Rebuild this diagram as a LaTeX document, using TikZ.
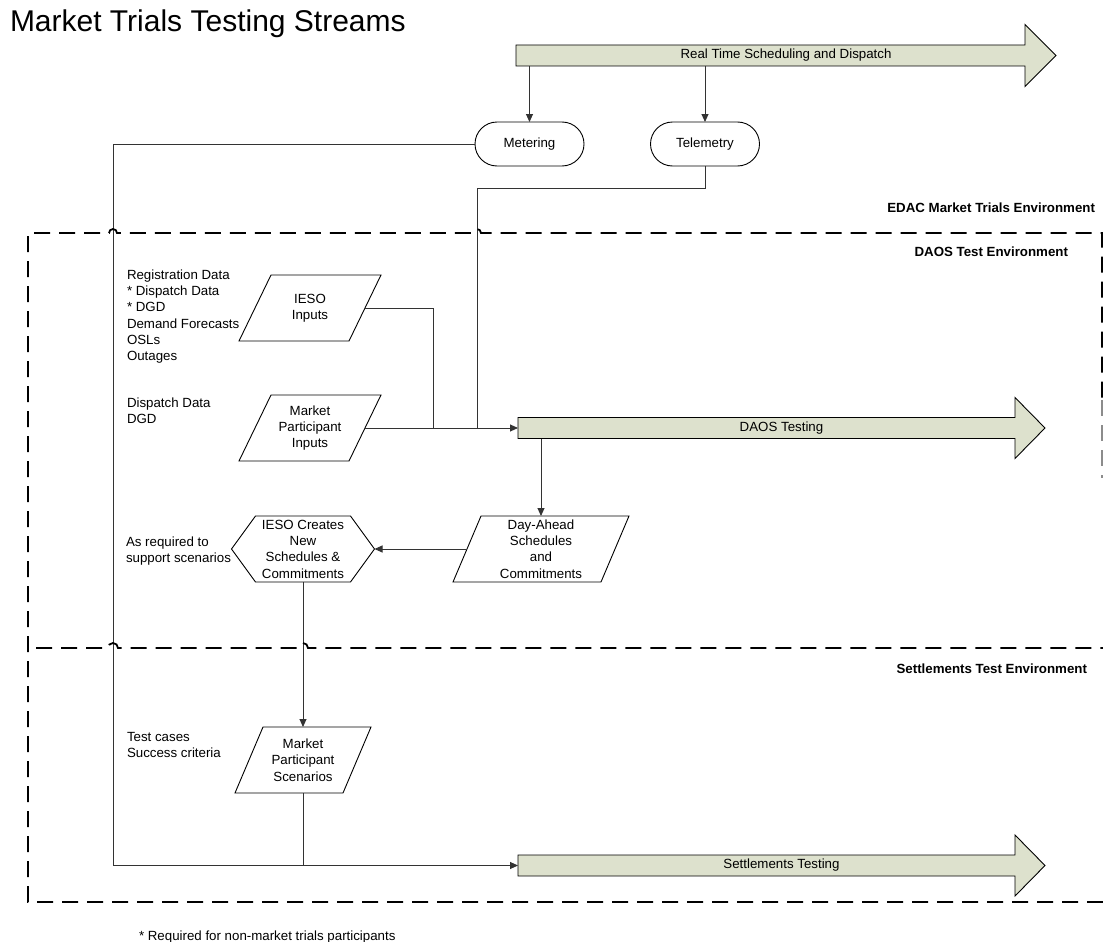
\documentclass[tikz,border=0pt]{standalone}
\usepackage{fontspec}
\setmainfont{Liberation Sans}
\usetikzlibrary{arrows.meta,backgrounds,calc}
\definecolor{arrfill}{RGB}{221,225,205}
\begin{document}
\begin{tikzpicture}[x=1pt,y=-1pt,
  every node/.style={font=\fontsize{13.3}{16.3}\selectfont, inner sep=0pt, outer sep=0pt},
  conn/.style={line width=0.9pt, draw=black!80},
  arrowtip/.style={-{Triangle[length=8pt,width=7pt]}},
  bigarr/.style={fill=arrfill, draw=black, line width=0.9pt},
  envbox/.style={line width=1.8pt, dash pattern=on 16pt off 9pt},
  termbox/.style={draw, line width=0.9pt, rounded corners=22pt, minimum width=109pt, minimum height=44pt},
  bodybox/.style={minimum height=21pt},
  envlabel/.style={font=\fontsize{13.3}{16}\selectfont\bfseries, anchor=east},
  sidelabel/.style={align=left, anchor=north west},
  shapetext/.style={align=center, minimum height=66pt},
  shapeline/.style={draw, line width=0.9pt}
]
\useasboundingbox (0,0) rectangle (1103,942);

% title
\node[anchor=base west, font=\fontsize{30}{32}\selectfont] (title) at (10,32) {Market Trials Testing Streams};

% big arrows (text nodes)
\node[bodybox, minimum width=540pt] (rt) at (786,55.5) {Real Time Scheduling and Dispatch};
\node[bodybox, minimum width=527pt] (daos) at (781.5,428) {DAOS Testing};
\node[bodybox, minimum width=527pt] (settle) at (781.5,865.5) {Settlements Testing};

\begin{pgfonlayer}{background}
\draw[bigarr] (rt.north west) -- ([xshift=-31pt]rt.north east) -- ([xshift=-31pt,yshift=20.5pt]rt.north east)
  -- (rt.east) -- ([xshift=-31pt,yshift=-20.5pt]rt.south east) -- ([xshift=-31pt]rt.south east) -- (rt.south west) -- cycle;
\draw[bigarr] (daos.north west) -- ([xshift=-30pt]daos.north east) -- ([xshift=-30pt,yshift=20pt]daos.north east)
  -- (daos.east) -- ([xshift=-30pt,yshift=-20pt]daos.south east) -- ([xshift=-30pt]daos.south east) -- (daos.south west) -- cycle;
\draw[bigarr] (settle.north west) -- ([xshift=-30pt]settle.north east) -- ([xshift=-30pt,yshift=20pt]settle.north east)
  -- (settle.east) -- ([xshift=-30pt,yshift=-20pt]settle.south east) -- ([xshift=-30pt]settle.south east) -- (settle.south west) -- cycle;
\end{pgfonlayer}

% terminators
\node[termbox] (metering) at (529.5,144) {Metering};
\node[termbox] (telemetry) at (705,144) {Telemetry};

% parallelograms
\node[shapetext, minimum width=110pt] (ieso) at (310,308) {IESO\\Inputs};
\draw[shapeline] ([xshift=16pt]ieso.north west) -- ([xshift=16pt]ieso.north east) -- ([xshift=-16pt]ieso.south east) -- ([xshift=-16pt]ieso.south west) -- cycle;
\node[shapetext, minimum width=110pt] (mpi) at (310,428) {Market\\Participant\\Inputs};
\draw[shapeline] ([xshift=16pt]mpi.north west) -- ([xshift=16pt]mpi.north east) -- ([xshift=-16pt]mpi.south east) -- ([xshift=-16pt]mpi.south west) -- cycle;
\node[shapetext, minimum width=148pt] (da) at (541,549) {Day-Ahead\\Schedules\\and\\Commitments};
\draw[shapeline] ([xshift=14pt]da.north west) -- ([xshift=14pt]da.north east) -- ([xshift=-14pt]da.south east) -- ([xshift=-14pt]da.south west) -- cycle;
\node[shapetext, minimum width=108pt] (mps) at (303,760) {Market\\Participant\\Scenarios};
\draw[shapeline] ([xshift=14pt]mps.north west) -- ([xshift=14pt]mps.north east) -- ([xshift=-14pt]mps.south east) -- ([xshift=-14pt]mps.south west) -- cycle;

% hexagon
\node[shapetext, minimum width=143pt] (hex) at (303,549) {IESO Creates\\New\\Schedules \&\\Commitments};
\draw[shapeline] (hex.west) -- ([xshift=24pt]hex.north west) -- ([xshift=-24pt]hex.north east) -- (hex.east)
  -- ([xshift=-24pt]hex.south east) -- ([xshift=24pt]hex.south west) -- cycle;

% connectors
\draw[conn, arrowtip] (metering |- rt.south) -- (metering.north);
\draw[conn, arrowtip] (telemetry |- rt.south) -- (telemetry.north);
\coordinate (mleft) at (113,144);
\draw[conn, arrowtip] (metering.west) -- (mleft) |- (settle.west);
\coordinate (tbend) at (477,188);
\draw[conn] (telemetry.south) |- (tbend) -- (tbend |- daos.west);
\coordinate (ijoin) at (433,428);
\draw[conn] (ieso.east) -| (ijoin);
\draw[conn, arrowtip] (mpi.east) -- (daos.west);
\draw[conn, arrowtip] (da.north |- daos.south) -- (da.north);
\draw[conn, arrowtip] (da.west) -- (hex.east);
\draw[conn, arrowtip] (hex.south) -- (mps.north);
\draw[conn] (mps.south) -- (mps.south |- settle.west);

% environment boundaries
\draw[envbox] (1103,902) -- (28,902) -- (28,233) -- (109,233) arc[start angle=180,end angle=0,radius=4pt]
  -- (473,233) arc[start angle=180,end angle=0,radius=4pt] -- (1102,233) -- (1102,400);
\draw[envbox, draw=black!45] (1102,400) -- (1102,478);
\draw[envbox] (36,648) -- (108,648) arc[start angle=180,end angle=0,radius=5pt]
  -- (298,648) arc[start angle=180,end angle=0,radius=5pt] -- (1103,648);

% environment labels
\node[envlabel] (edac) at (1095,208) {EDAC Market Trials Environment};
\node[envlabel] (daosenv) at (1068,252) {DAOS Test Environment};
\node[envlabel] (setenv) at (1087,669) {Settlements Test Environment};

% side labels
\node[sidelabel] (reglist) at (127,269.5) {Registration Data\\* Dispatch Data\\* DGD\\Demand Forecasts\\OSLs\\Outages};
\node[sidelabel] (mplist) at (127,397.5) {Dispatch Data\\DGD};
\node[sidelabel] (asreq) at (126,536.5) {As required to\\support scenarios};
\node[sidelabel] (tests) at (127,732.5) {Test cases\\Success criteria};
\node[anchor=base west] (foot) at (139,940.5) {* Required for non-market trials participants};
\end{tikzpicture}
\end{document}
